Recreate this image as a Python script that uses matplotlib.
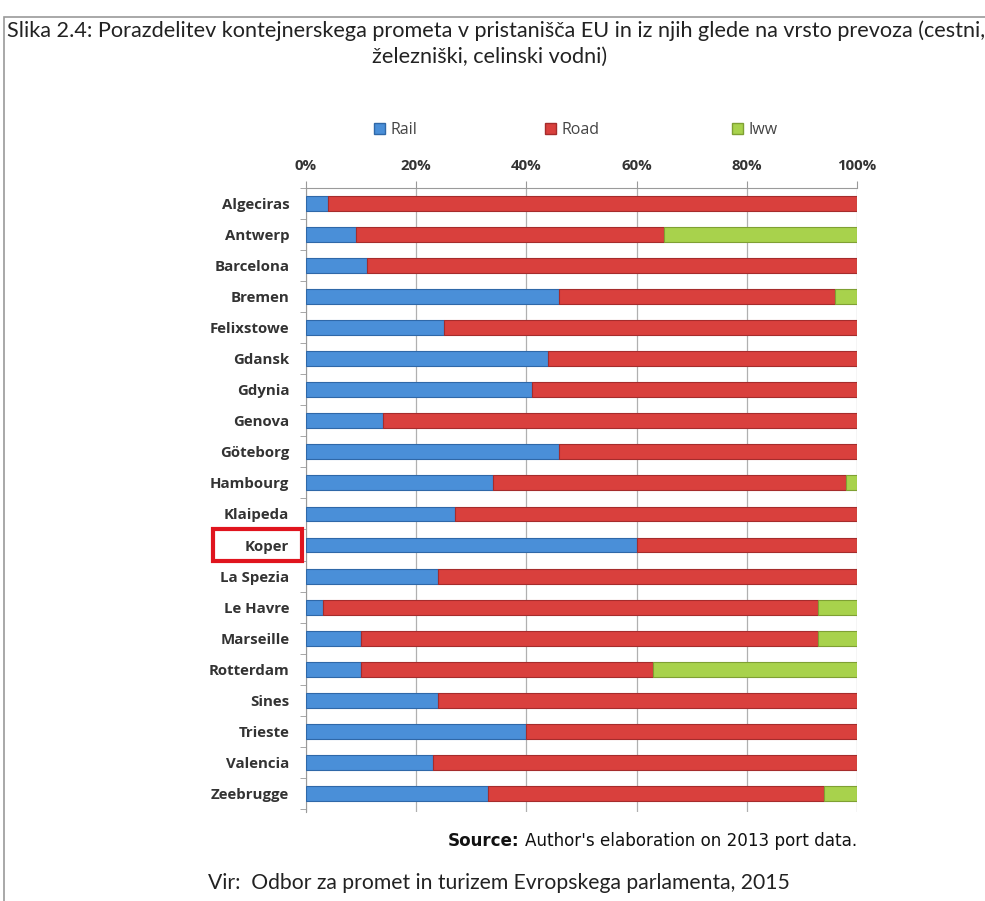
import matplotlib
matplotlib.use("Agg")
import matplotlib.pyplot as plt
from matplotlib.patches import Rectangle, Patch
from matplotlib.ticker import FuncFormatter
import numpy as np

ports = ["Algeciras", "Antwerp", "Barcelona", "Bremen", "Felixstowe", "Gdansk",
         "Gdynia", "Genova", "Göteborg", "Hambourg", "Klaipeda", "Koper",
         "La Spezia", "Le Havre", "Marseille", "Rotterdam", "Sines", "Trieste",
         "Valencia", "Zeebrugge"]
rail = [4, 9, 11, 46, 25, 44, 41, 14, 46, 34, 27, 60, 24, 3, 10, 10, 24, 40, 23, 33]
iww = [0, 35, 0, 4, 0, 0, 0, 0, 0, 2, 0, 0, 0, 7, 7, 37, 0, 0, 0, 6]
road = [100 - r - w for r, w in zip(rail, iww)]
series_names = ["Rail", "Road", "Iww"]
xticks = [0, 20, 40, 60, 80, 100]

plt.rcParams['font.family'] = ['Lato', 'DejaVu Sans']
LBL = ['Open Sans', 'DejaVu Sans']

W, H = 985, 901
fig = plt.figure(figsize=(W / 100, H / 100), dpi=100)
fig.patch.set_facecolor('white')

# outer frame
fig.patches.append(Rectangle((4 / W, -0.01), 1.1, 1 - 17 / H + 0.01,
                             transform=fig.transFigure, fill=False,
                             edgecolor='#9a9a9a', linewidth=1.2))

ax = fig.add_axes([306 / W, 1 - 812 / H, 551 / W, (812 - 188) / H])
y = np.arange(len(ports))
c_rail, c_road, c_iww = '#4a8fd8', '#d9403d', '#a8d24c'
e_rail, e_road, e_iww = '#2f68a8', '#a52c2c', '#7fa033'
h = 0.48
ax.barh(y, rail, height=h, color=c_rail, edgecolor=e_rail, linewidth=0.8,
        label=series_names[0], zorder=3)
ax.barh(y, road, left=rail, height=h, color=c_road, edgecolor=e_road,
        linewidth=0.8, label=series_names[1], zorder=3)
left2 = [r + d for r, d in zip(rail, road)]
ax.barh(y, iww, left=left2, height=h, color=c_iww, edgecolor=e_iww,
        linewidth=0.8, label=series_names[2], zorder=3)

ax.set_xlim(0, 100)
ax.set_ylim(len(ports) - 0.4, -0.5)
ax.set_yticks(y)
ax.set_yticklabels(ports, fontsize=10.8, color='#333333', fontweight='bold',
                   family=LBL)
ax.set_yticks(np.arange(-0.5, len(ports), 1), minor=True)
ax.tick_params(axis='y', which='major', length=0, pad=12)
ax.tick_params(axis='y', which='minor', length=4, color='#999999')
ax.xaxis.tick_top()
ax.set_xticks(xticks)
ax.xaxis.set_major_formatter(FuncFormatter(lambda v, p: f"{int(v)}%"))
ax.tick_params(axis='x', length=5, color='#999999', labelsize=10.8,
               labelcolor='#333333', pad=6)
for lab in ax.get_xticklabels():
    lab.set_fontweight('bold')
    lab.set_family(LBL)
ax.grid(axis='x', color='#b0b0b0', linewidth=0.9, zorder=0)
for s in ['right', 'bottom']:
    ax.spines[s].set_visible(False)
for s in ['left', 'top']:
    ax.spines[s].set_color('#9a9a9a')

# legend: one entry per legend, placed like the original
handles = [Patch(facecolor=c_rail, edgecolor=e_rail),
           Patch(facecolor=c_road, edgecolor=e_road),
           Patch(facecolor=c_iww, edgecolor=e_iww)]
leg_x = [374, 545, 732]
for hd, nm, lx in zip(handles, series_names, leg_x):
    lg = fig.legend([hd], [nm], loc='center left',
                    bbox_to_anchor=(lx / W, 1 - 130 / H), frameon=False,
                    borderpad=0, borderaxespad=0,
                    handlelength=0.7, handleheight=0.7, handletextpad=0.35,
                    prop={'family': LBL, 'size': 11.5})
    for t in lg.get_texts():
        t.set_color('#444444')

# title
fig.text(0.504, 1 - 31 / H,
         "Slika 2.4: Porazdelitev kontejnerskega prometa v pristanišča EU in iz njih glede na vrsto prevoza (cestni,",
         ha='center', va='center', fontsize=15.6, color='#222222')
fig.text(0.497, 1 - 57 / H, "železniški, celinski vodni)",
         ha='center', va='center', fontsize=15.6, color='#222222')

# Koper highlight box
fig.patches.append(Rectangle((213 / W, 1 - 561 / H), 89 / W, 32 / H,
                             transform=fig.transFigure, fill=False,
                             edgecolor='#e0141e', linewidth=3))

# source
SRC = ['DejaVu Sans']
t1 = fig.text(448 / W, 1 - 841 / H, "Source:", ha='left', va='center',
              fontsize=12.1, fontweight='bold', color='#111111', family=SRC)
fig.canvas.draw()
bb = t1.get_window_extent(renderer=fig.canvas.get_renderer())
fig.text((bb.x1 + 5) / W, 1 - 841 / H, "Author's elaboration on 2013 port data.",
         ha='left', va='center', fontsize=12.1, color='#111111', family=SRC)
fig.text(208 / W, 1 - 883 / H,
         "Vir:  Odbor za promet in turizem Evropskega parlamenta, 2015",
         ha='left', va='center', fontsize=15.2, color='#222222')

fig.savefig("out.png", dpi=100)
